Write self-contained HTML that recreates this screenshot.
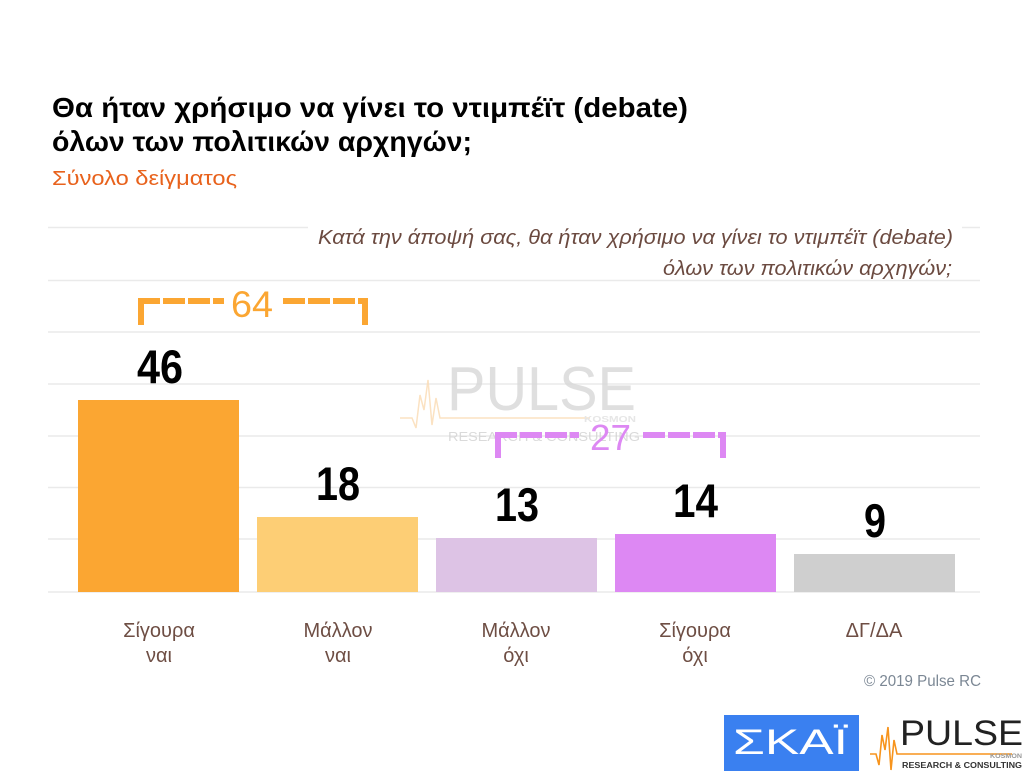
<!DOCTYPE html>
<html>
<head>
<meta charset="utf-8">
<style>
  html,body{margin:0;padding:0;background:#ffffff;}
  svg{display:block;}
  text{font-family:"Liberation Sans","Noto Sans CJK SC",sans-serif;}
</style>
</head>
<body>
<svg width="1035" height="783" viewBox="0 0 1035 783" xmlns="http://www.w3.org/2000/svg">
  <rect x="0" y="0" width="1035" height="783" fill="#ffffff"/>

  <!-- Title -->
  <text x="52" y="117" font-size="28" font-weight="bold" fill="#000" textLength="636" lengthAdjust="spacingAndGlyphs">Θα ήταν χρήσιμο να γίνει το ντιμπέϊτ (debate)</text>
  <text x="52" y="151" font-size="28" font-weight="bold" fill="#000" textLength="420" lengthAdjust="spacingAndGlyphs">όλων των πολιτικών αρχηγών;</text>
  <text x="52" y="185" font-size="20" fill="#E8621C" textLength="185" lengthAdjust="spacingAndGlyphs">Σύνολο δείγματος</text>

  <!-- Gridlines -->
  <g stroke="#EAEAEA" stroke-width="1.5">
    <line x1="48" y1="227.5" x2="308" y2="227.5"/>
    <line x1="962" y1="227.5" x2="980" y2="227.5"/>
    <line x1="48" y1="280.5" x2="980" y2="280.5"/>
    <line x1="48" y1="332" x2="980" y2="332"/>
    <line x1="48" y1="384" x2="980" y2="384"/>
    <line x1="48" y1="436" x2="980" y2="436"/>
    <line x1="48" y1="487.5" x2="980" y2="487.5"/>
    <line x1="48" y1="539" x2="980" y2="539"/>
    <line x1="48" y1="592" x2="980" y2="592"/>
  </g>

  <!-- Italic question -->
  <text x="318" y="244" font-size="20" font-style="italic" fill="#6B4A40" textLength="635" lengthAdjust="spacingAndGlyphs">Κατά την άποψή σας, θα ήταν χρήσιμο να γίνει το ντιμπέϊτ (debate)</text>
  <text x="663" y="275" font-size="20" font-style="italic" fill="#6B4A40" textLength="289" lengthAdjust="spacingAndGlyphs">όλων των πολιτικών αρχηγών;</text>

  <!-- Watermark -->
  <g opacity="0.85">
    <polyline points="400,418 412,418 416,428 420,395 424,410 428,380 432,425 436,398 440,418 590,418" fill="none" stroke="#FBDDB8" stroke-width="1.5"/>
    <text x="447" y="410" font-size="62" fill="#DADADA" textLength="189" lengthAdjust="spacingAndGlyphs">PULSE</text>
    <text x="584" y="422" font-size="8" font-weight="bold" fill="#E2E2E2" textLength="52" lengthAdjust="spacingAndGlyphs">KOSMON</text>
    <text x="448" y="441" font-size="13" fill="#D4D4D4" textLength="192" lengthAdjust="spacingAndGlyphs">RESEARCH &amp; CONSULTING</text>
  </g>

  <!-- Bars -->
  <rect x="78" y="400" width="161" height="192" fill="#FBA632"/>
  <rect x="257" y="517" width="161" height="75" fill="#FDCE75"/>
  <rect x="436" y="538" width="161" height="54" fill="#DDC3E5"/>
  <rect x="615" y="534" width="161" height="58" fill="#DD88F3"/>
  <rect x="794" y="554" width="161" height="38" fill="#CFCFCF"/>

  <!-- Value labels -->
  <g font-size="47" font-weight="bold" fill="#000">
    <text x="137" y="383" textLength="46" lengthAdjust="spacingAndGlyphs">46</text>
    <text x="316" y="500" textLength="44" lengthAdjust="spacingAndGlyphs">18</text>
    <text x="495" y="521" textLength="44" lengthAdjust="spacingAndGlyphs">13</text>
    <text x="673" y="517" textLength="45" lengthAdjust="spacingAndGlyphs">14</text>
    <text x="864" y="537" textLength="22" lengthAdjust="spacingAndGlyphs">9</text>
  </g>

  <!-- Bracket 64 -->
  <g fill="#FBA632">
    <rect x="138" y="298" width="6" height="27"/>
    <rect x="362" y="298" width="6" height="27"/>
  </g>
  <g stroke="#FBA632" stroke-width="6" stroke-dasharray="22 3">
    <line x1="138" y1="301" x2="224" y2="301"/>
    <line x1="283" y1="301" x2="368" y2="301"/>
  </g>
  <text x="231" y="317" font-size="37" fill="#FBA632" textLength="42" lengthAdjust="spacingAndGlyphs">64</text>

  <!-- Bracket 27 -->
  <g fill="#DD88F3">
    <rect x="495" y="432" width="6" height="26"/>
    <rect x="720" y="432" width="6" height="26"/>
  </g>
  <g stroke="#DD88F3" stroke-width="6" stroke-dasharray="22 3">
    <line x1="495" y1="435" x2="579" y2="435"/>
    <line x1="643" y1="435" x2="726" y2="435"/>
  </g>
  <text x="590" y="450" font-size="36" fill="#DD88F3" textLength="41" lengthAdjust="spacingAndGlyphs">27</text>

  <!-- Category labels -->
  <g font-size="20" fill="#6E4E44" text-anchor="middle">
    <text x="159" y="637">Σίγουρα</text>
    <text x="159" y="662">ναι</text>
    <text x="338" y="637">Μάλλον</text>
    <text x="338" y="662">ναι</text>
    <text x="516" y="637">Μάλλον</text>
    <text x="516" y="662">όχι</text>
    <text x="695" y="637">Σίγουρα</text>
    <text x="695" y="662">όχι</text>
    <text x="874" y="637">ΔΓ/ΔΑ</text>
  </g>

  <!-- Copyright -->
  <text x="864" y="686" font-size="16" fill="#7B8794" textLength="117" lengthAdjust="spacingAndGlyphs">© 2019 Pulse RC</text>

  <!-- SKAI logo -->
  <rect x="724" y="715" width="135" height="56" fill="#3A80F0"/>
  <text x="733" y="754" font-size="35" fill="#ffffff" textLength="115" lengthAdjust="spacingAndGlyphs">ΣΚΑΪ</text>

  <!-- PULSE logo -->
  <polyline points="870,754 876,754 879,765 882,735 885,750 888,727 891,770 894,740 897,754 1012,754" fill="none" stroke="#F7941D" stroke-width="1.6"/>
  <text x="900" y="745" font-size="35" fill="#222" textLength="123" lengthAdjust="spacingAndGlyphs">PULSE</text>
  <text x="990" y="758" font-size="6" font-weight="bold" fill="#999" textLength="32" lengthAdjust="spacingAndGlyphs">KOSMON</text>
  <text x="902" y="768" font-size="8" font-weight="bold" fill="#333" textLength="120" lengthAdjust="spacingAndGlyphs">RESEARCH &amp; CONSULTING</text>
</svg>
</body>
</html>
